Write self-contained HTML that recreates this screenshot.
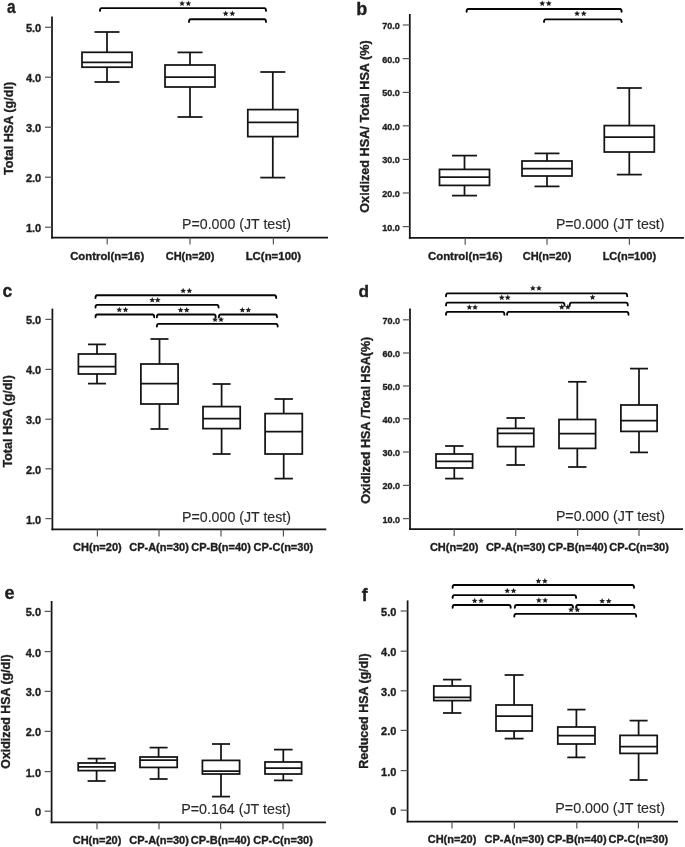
<!DOCTYPE html>
<html><head><meta charset="utf-8"><title>HSA box plots</title>
<style>
html,body{margin:0;padding:0;background:#fff;}
body{width:685px;height:847px;overflow:hidden;}
svg{display:block;font-family:"Liberation Sans", sans-serif;filter:blur(0.35px);}
</style></head>
<body>
<svg width="685" height="847" viewBox="0 0 685 847">
<rect width="685" height="847" fill="#fff"/>
<text x="7.0" y="12.7" font-size="18" font-weight="bold" text-anchor="start" fill="#1e1e1e" stroke="#1e1e1e" stroke-width="0.35" textLength="8.6" lengthAdjust="spacingAndGlyphs">a</text>
<text transform="translate(12.9,128.4) rotate(-90)" x="0" y="0" font-size="12.5" font-weight="bold" text-anchor="middle" fill="#1e1e1e" stroke="#1e1e1e" stroke-width="0.35" textLength="93" lengthAdjust="spacingAndGlyphs">Total HSA (g/dl)</text>
<line x1="52" y1="16.5" x2="52" y2="238.5" stroke="#141414" stroke-width="1.75"/>
<line x1="51.1" y1="237.6" x2="328" y2="237.6" stroke="#141414" stroke-width="1.75"/>
<line x1="45" y1="27.3" x2="52" y2="27.3" stroke="#555" stroke-width="1.2"/>
<text x="41.2" y="32.2" font-size="11" font-weight="bold" text-anchor="end" fill="#1e1e1e" stroke="#1e1e1e" stroke-width="0.35">5.0</text>
<line x1="45" y1="77.2" x2="52" y2="77.2" stroke="#555" stroke-width="1.2"/>
<text x="41.2" y="82.10000000000001" font-size="11" font-weight="bold" text-anchor="end" fill="#1e1e1e" stroke="#1e1e1e" stroke-width="0.35">4.0</text>
<line x1="45" y1="127.2" x2="52" y2="127.2" stroke="#555" stroke-width="1.2"/>
<text x="41.2" y="132.1" font-size="11" font-weight="bold" text-anchor="end" fill="#1e1e1e" stroke="#1e1e1e" stroke-width="0.35">3.0</text>
<line x1="45" y1="177.2" x2="52" y2="177.2" stroke="#555" stroke-width="1.2"/>
<text x="41.2" y="182.1" font-size="11" font-weight="bold" text-anchor="end" fill="#1e1e1e" stroke="#1e1e1e" stroke-width="0.35">2.0</text>
<line x1="45" y1="227.2" x2="52" y2="227.2" stroke="#555" stroke-width="1.2"/>
<text x="41.2" y="232.1" font-size="11" font-weight="bold" text-anchor="end" fill="#1e1e1e" stroke="#1e1e1e" stroke-width="0.35">1.0</text>
<line x1="107" y1="32" x2="107" y2="52.3" stroke="#141414" stroke-width="1.75"/>
<line x1="107" y1="67.2" x2="107" y2="82" stroke="#141414" stroke-width="1.75"/>
<line x1="94.5" y1="32" x2="119.5" y2="32" stroke="#141414" stroke-width="1.75"/>
<line x1="94.5" y1="82" x2="119.5" y2="82" stroke="#141414" stroke-width="1.75"/>
<rect x="82.0" y="52.3" width="50.0" height="14.900000000000006" fill="none" stroke="#141414" stroke-width="1.75"/>
<line x1="82.0" y1="62.4" x2="132.0" y2="62.4" stroke="#141414" stroke-width="1.75"/>
<line x1="190" y1="52.4" x2="190" y2="65" stroke="#141414" stroke-width="1.75"/>
<line x1="190" y1="87" x2="190" y2="117" stroke="#141414" stroke-width="1.75"/>
<line x1="177.5" y1="52.4" x2="202.5" y2="52.4" stroke="#141414" stroke-width="1.75"/>
<line x1="177.5" y1="117" x2="202.5" y2="117" stroke="#141414" stroke-width="1.75"/>
<rect x="165.0" y="65" width="50.0" height="22" fill="none" stroke="#141414" stroke-width="1.75"/>
<line x1="165.0" y1="77" x2="215.0" y2="77" stroke="#141414" stroke-width="1.75"/>
<line x1="272.8" y1="72" x2="272.8" y2="109.6" stroke="#141414" stroke-width="1.75"/>
<line x1="272.8" y1="136.6" x2="272.8" y2="177.6" stroke="#141414" stroke-width="1.75"/>
<line x1="260.3" y1="72" x2="285.3" y2="72" stroke="#141414" stroke-width="1.75"/>
<line x1="260.3" y1="177.6" x2="285.3" y2="177.6" stroke="#141414" stroke-width="1.75"/>
<rect x="247.8" y="109.6" width="50.0" height="27.0" fill="none" stroke="#141414" stroke-width="1.75"/>
<line x1="247.8" y1="122.4" x2="297.8" y2="122.4" stroke="#141414" stroke-width="1.75"/>
<line x1="107.2" y1="237.6" x2="107.2" y2="244.6" stroke="#555" stroke-width="1.2"/>
<text x="107.2" y="259.6" font-size="11" font-weight="bold" text-anchor="middle" fill="#1e1e1e" stroke="#1e1e1e" stroke-width="0.35" textLength="74" lengthAdjust="spacingAndGlyphs">Control(n=16)</text>
<line x1="190" y1="237.6" x2="190" y2="244.6" stroke="#555" stroke-width="1.2"/>
<text x="190" y="259.6" font-size="11" font-weight="bold" text-anchor="middle" fill="#1e1e1e" stroke="#1e1e1e" stroke-width="0.35">CH(n=20)</text>
<line x1="273.4" y1="237.6" x2="273.4" y2="244.6" stroke="#555" stroke-width="1.2"/>
<text x="273.4" y="259.6" font-size="11" font-weight="bold" text-anchor="middle" fill="#1e1e1e" stroke="#1e1e1e" stroke-width="0.35" textLength="55.5" lengthAdjust="spacingAndGlyphs">LC(n=100)</text>
<path d="M100,10.899999999999999 Q100,8.1 101.6,8.1 L264.4,8.1 Q266,8.1 266,10.899999999999999" fill="none" stroke="#050505" stroke-width="1.85" stroke-linecap="round"/>
<path d="M189,22.0 Q189,19.2 190.6,19.2 L264.4,19.2 Q266,19.2 266,22.0" fill="none" stroke="#050505" stroke-width="1.85" stroke-linecap="round"/>
<polygon points="182.05,0.45 182.87,2.42 185.00,2.59 183.38,3.98 183.87,6.06 182.05,4.95 180.23,6.06 180.72,3.98 179.10,2.59 181.23,2.42" fill="#1e1e1e"/>
<polygon points="188.35,0.45 189.17,2.42 191.30,2.59 189.68,3.98 190.17,6.06 188.35,4.95 186.53,6.06 187.02,3.98 185.40,2.59 187.53,2.42" fill="#1e1e1e"/>
<polygon points="225.65,10.60 226.47,12.57 228.60,12.74 226.98,14.13 227.47,16.21 225.65,15.09 223.83,16.21 224.32,14.13 222.70,12.74 224.83,12.57" fill="#1e1e1e"/>
<polygon points="232.35,10.60 233.17,12.57 235.30,12.74 233.68,14.13 234.17,16.21 232.35,15.09 230.53,16.21 231.02,14.13 229.40,12.74 231.53,12.57" fill="#1e1e1e"/>
<text x="182.0" y="229.4" font-size="15.0" font-weight="normal" text-anchor="start" fill="#2a2a2a" stroke="#2a2a2a" stroke-width="0.15" textLength="109" lengthAdjust="spacingAndGlyphs">P=0.000 (JT test)</text>
<text x="356.2" y="15.2" font-size="18" font-weight="bold" text-anchor="start" fill="#1e1e1e" stroke="#1e1e1e" stroke-width="0.35">b</text>
<text transform="translate(369.0,126.5) rotate(-90)" x="0" y="0" font-size="12.6" font-weight="bold" text-anchor="middle" fill="#1e1e1e" stroke="#1e1e1e" stroke-width="0.35" textLength="172.5" lengthAdjust="spacingAndGlyphs">Oxidized HSA/ Total HSA (%)</text>
<line x1="409.8" y1="14" x2="409.8" y2="238.70000000000002" stroke="#141414" stroke-width="1.75"/>
<line x1="408.90000000000003" y1="237.8" x2="684" y2="237.8" stroke="#141414" stroke-width="1.75"/>
<line x1="402.8" y1="25" x2="409.8" y2="25" stroke="#555" stroke-width="1.2"/>
<text x="399.8" y="29.0" font-size="9.3" font-weight="bold" text-anchor="end" fill="#1e1e1e" stroke="#1e1e1e" stroke-width="0.35" textLength="17.6" lengthAdjust="spacingAndGlyphs">70.0</text>
<line x1="402.8" y1="58.6" x2="409.8" y2="58.6" stroke="#555" stroke-width="1.2"/>
<text x="399.8" y="62.6" font-size="9.3" font-weight="bold" text-anchor="end" fill="#1e1e1e" stroke="#1e1e1e" stroke-width="0.35" textLength="17.6" lengthAdjust="spacingAndGlyphs">60.0</text>
<line x1="402.8" y1="92.4" x2="409.8" y2="92.4" stroke="#555" stroke-width="1.2"/>
<text x="399.8" y="96.4" font-size="9.3" font-weight="bold" text-anchor="end" fill="#1e1e1e" stroke="#1e1e1e" stroke-width="0.35" textLength="17.6" lengthAdjust="spacingAndGlyphs">50.0</text>
<line x1="402.8" y1="125.8" x2="409.8" y2="125.8" stroke="#555" stroke-width="1.2"/>
<text x="399.8" y="129.8" font-size="9.3" font-weight="bold" text-anchor="end" fill="#1e1e1e" stroke="#1e1e1e" stroke-width="0.35" textLength="17.6" lengthAdjust="spacingAndGlyphs">40.0</text>
<line x1="402.8" y1="159.4" x2="409.8" y2="159.4" stroke="#555" stroke-width="1.2"/>
<text x="399.8" y="163.4" font-size="9.3" font-weight="bold" text-anchor="end" fill="#1e1e1e" stroke="#1e1e1e" stroke-width="0.35" textLength="17.6" lengthAdjust="spacingAndGlyphs">30.0</text>
<line x1="402.8" y1="193" x2="409.8" y2="193" stroke="#555" stroke-width="1.2"/>
<text x="399.8" y="197.0" font-size="9.3" font-weight="bold" text-anchor="end" fill="#1e1e1e" stroke="#1e1e1e" stroke-width="0.35" textLength="17.6" lengthAdjust="spacingAndGlyphs">20.0</text>
<line x1="402.8" y1="226.6" x2="409.8" y2="226.6" stroke="#555" stroke-width="1.2"/>
<text x="399.8" y="230.6" font-size="9.3" font-weight="bold" text-anchor="end" fill="#1e1e1e" stroke="#1e1e1e" stroke-width="0.35" textLength="17.6" lengthAdjust="spacingAndGlyphs">10.0</text>
<line x1="464.5" y1="155.6" x2="464.5" y2="169.4" stroke="#141414" stroke-width="1.75"/>
<line x1="464.5" y1="185.4" x2="464.5" y2="195.6" stroke="#141414" stroke-width="1.75"/>
<line x1="452.0" y1="155.6" x2="477.0" y2="155.6" stroke="#141414" stroke-width="1.75"/>
<line x1="452.0" y1="195.6" x2="477.0" y2="195.6" stroke="#141414" stroke-width="1.75"/>
<rect x="439.5" y="169.4" width="50.0" height="16.0" fill="none" stroke="#141414" stroke-width="1.75"/>
<line x1="439.5" y1="177" x2="489.5" y2="177" stroke="#141414" stroke-width="1.75"/>
<line x1="547" y1="153.4" x2="547" y2="161" stroke="#141414" stroke-width="1.75"/>
<line x1="547" y1="176" x2="547" y2="186.4" stroke="#141414" stroke-width="1.75"/>
<line x1="534.5" y1="153.4" x2="559.5" y2="153.4" stroke="#141414" stroke-width="1.75"/>
<line x1="534.5" y1="186.4" x2="559.5" y2="186.4" stroke="#141414" stroke-width="1.75"/>
<rect x="522.0" y="161" width="50.0" height="15" fill="none" stroke="#141414" stroke-width="1.75"/>
<line x1="522.0" y1="168.6" x2="572.0" y2="168.6" stroke="#141414" stroke-width="1.75"/>
<line x1="629.3" y1="88" x2="629.3" y2="125.6" stroke="#141414" stroke-width="1.75"/>
<line x1="629.3" y1="152" x2="629.3" y2="174.6" stroke="#141414" stroke-width="1.75"/>
<line x1="616.8" y1="88" x2="641.8" y2="88" stroke="#141414" stroke-width="1.75"/>
<line x1="616.8" y1="174.6" x2="641.8" y2="174.6" stroke="#141414" stroke-width="1.75"/>
<rect x="604.3" y="125.6" width="50.0" height="26.400000000000006" fill="none" stroke="#141414" stroke-width="1.75"/>
<line x1="604.3" y1="137" x2="654.3" y2="137" stroke="#141414" stroke-width="1.75"/>
<line x1="465.2" y1="237.8" x2="465.2" y2="244.8" stroke="#555" stroke-width="1.2"/>
<text x="465.2" y="259.6" font-size="11" font-weight="bold" text-anchor="middle" fill="#1e1e1e" stroke="#1e1e1e" stroke-width="0.35" textLength="74.5" lengthAdjust="spacingAndGlyphs">Control(n=16)</text>
<line x1="547" y1="237.8" x2="547" y2="244.8" stroke="#555" stroke-width="1.2"/>
<text x="547" y="259.6" font-size="11" font-weight="bold" text-anchor="middle" fill="#1e1e1e" stroke="#1e1e1e" stroke-width="0.35">CH(n=20)</text>
<line x1="629.4" y1="237.8" x2="629.4" y2="244.8" stroke="#555" stroke-width="1.2"/>
<text x="629.4" y="259.6" font-size="11" font-weight="bold" text-anchor="middle" fill="#1e1e1e" stroke="#1e1e1e" stroke-width="0.35">LC(n=100)</text>
<path d="M466.6,11.8 Q466.6,9 468.20000000000005,9 L620.0,9 Q621.6,9 621.6,11.8" fill="none" stroke="#050505" stroke-width="1.85" stroke-linecap="round"/>
<path d="M544,22.1 Q544,19.3 545.6,19.3 L620.0,19.3 Q621.6,19.3 621.6,22.1" fill="none" stroke="#050505" stroke-width="1.85" stroke-linecap="round"/>
<polygon points="542.25,0.40 543.07,2.37 545.20,2.54 543.58,3.93 544.07,6.01 542.25,4.89 540.43,6.01 540.92,3.93 539.30,2.54 541.43,2.37" fill="#1e1e1e"/>
<polygon points="548.75,0.40 549.57,2.37 551.70,2.54 550.08,3.93 550.57,6.01 548.75,4.89 546.93,6.01 547.42,3.93 545.80,2.54 547.93,2.37" fill="#1e1e1e"/>
<polygon points="577.05,10.60 577.87,12.57 580.00,12.74 578.38,14.13 578.87,16.21 577.05,15.09 575.23,16.21 575.72,14.13 574.10,12.74 576.23,12.57" fill="#1e1e1e"/>
<polygon points="583.75,10.60 584.57,12.57 586.70,12.74 585.08,14.13 585.57,16.21 583.75,15.09 581.93,16.21 582.42,14.13 580.80,12.74 582.93,12.57" fill="#1e1e1e"/>
<text x="555.9" y="229.4" font-size="15.0" font-weight="normal" text-anchor="start" fill="#2a2a2a" stroke="#2a2a2a" stroke-width="0.15" textLength="108.6" lengthAdjust="spacingAndGlyphs">P=0.000 (JT test)</text>
<text x="2.6" y="296.7" font-size="17.5" font-weight="bold" text-anchor="start" fill="#1e1e1e" stroke="#1e1e1e" stroke-width="0.35">c</text>
<text transform="translate(11.9,421.3) rotate(-90)" x="0" y="0" font-size="12.5" font-weight="bold" text-anchor="middle" fill="#1e1e1e" stroke="#1e1e1e" stroke-width="0.35" textLength="92.5" lengthAdjust="spacingAndGlyphs">Total HSA (g/dl)</text>
<line x1="52.4" y1="308.6" x2="52.4" y2="530.3" stroke="#141414" stroke-width="1.75"/>
<line x1="51.5" y1="529.4" x2="326.3" y2="529.4" stroke="#141414" stroke-width="1.75"/>
<line x1="45.4" y1="319.4" x2="52.4" y2="319.4" stroke="#555" stroke-width="1.2"/>
<text x="41.2" y="324.29999999999995" font-size="11" font-weight="bold" text-anchor="end" fill="#1e1e1e" stroke="#1e1e1e" stroke-width="0.35">5.0</text>
<line x1="45.4" y1="369.4" x2="52.4" y2="369.4" stroke="#555" stroke-width="1.2"/>
<text x="41.2" y="374.29999999999995" font-size="11" font-weight="bold" text-anchor="end" fill="#1e1e1e" stroke="#1e1e1e" stroke-width="0.35">4.0</text>
<line x1="45.4" y1="419.2" x2="52.4" y2="419.2" stroke="#555" stroke-width="1.2"/>
<text x="41.2" y="424.09999999999997" font-size="11" font-weight="bold" text-anchor="end" fill="#1e1e1e" stroke="#1e1e1e" stroke-width="0.35">3.0</text>
<line x1="45.4" y1="468.8" x2="52.4" y2="468.8" stroke="#555" stroke-width="1.2"/>
<text x="41.2" y="473.7" font-size="11" font-weight="bold" text-anchor="end" fill="#1e1e1e" stroke="#1e1e1e" stroke-width="0.35">2.0</text>
<line x1="45.4" y1="518.6" x2="52.4" y2="518.6" stroke="#555" stroke-width="1.2"/>
<text x="41.2" y="523.5" font-size="11" font-weight="bold" text-anchor="end" fill="#1e1e1e" stroke="#1e1e1e" stroke-width="0.35">1.0</text>
<line x1="97" y1="344.4" x2="97" y2="354" stroke="#141414" stroke-width="1.75"/>
<line x1="97" y1="374" x2="97" y2="383.6" stroke="#141414" stroke-width="1.75"/>
<line x1="88.0" y1="344.4" x2="106.0" y2="344.4" stroke="#141414" stroke-width="1.75"/>
<line x1="88.0" y1="383.6" x2="106.0" y2="383.6" stroke="#141414" stroke-width="1.75"/>
<rect x="78.4" y="354" width="37.2" height="20" fill="none" stroke="#141414" stroke-width="1.75"/>
<line x1="78.4" y1="366.6" x2="115.6" y2="366.6" stroke="#141414" stroke-width="1.75"/>
<line x1="159.5" y1="339" x2="159.5" y2="364" stroke="#141414" stroke-width="1.75"/>
<line x1="159.5" y1="404" x2="159.5" y2="429" stroke="#141414" stroke-width="1.75"/>
<line x1="150.5" y1="339" x2="168.5" y2="339" stroke="#141414" stroke-width="1.75"/>
<line x1="150.5" y1="429" x2="168.5" y2="429" stroke="#141414" stroke-width="1.75"/>
<rect x="140.9" y="364" width="37.2" height="40" fill="none" stroke="#141414" stroke-width="1.75"/>
<line x1="140.9" y1="383.6" x2="178.1" y2="383.6" stroke="#141414" stroke-width="1.75"/>
<line x1="221.6" y1="384" x2="221.6" y2="406.6" stroke="#141414" stroke-width="1.75"/>
<line x1="221.6" y1="428.6" x2="221.6" y2="454" stroke="#141414" stroke-width="1.75"/>
<line x1="212.6" y1="384" x2="230.6" y2="384" stroke="#141414" stroke-width="1.75"/>
<line x1="212.6" y1="454" x2="230.6" y2="454" stroke="#141414" stroke-width="1.75"/>
<rect x="203.0" y="406.6" width="37.2" height="22.0" fill="none" stroke="#141414" stroke-width="1.75"/>
<line x1="203.0" y1="418.6" x2="240.2" y2="418.6" stroke="#141414" stroke-width="1.75"/>
<line x1="283.7" y1="399" x2="283.7" y2="413.6" stroke="#141414" stroke-width="1.75"/>
<line x1="283.7" y1="454" x2="283.7" y2="478.6" stroke="#141414" stroke-width="1.75"/>
<line x1="274.5" y1="399" x2="292.9" y2="399" stroke="#141414" stroke-width="1.75"/>
<line x1="274.5" y1="478.6" x2="292.9" y2="478.6" stroke="#141414" stroke-width="1.75"/>
<rect x="265.09999999999997" y="413.6" width="37.2" height="40.39999999999998" fill="none" stroke="#141414" stroke-width="1.75"/>
<line x1="265.09999999999997" y1="431.6" x2="302.3" y2="431.6" stroke="#141414" stroke-width="1.75"/>
<line x1="97.4" y1="529.4" x2="97.4" y2="536.4" stroke="#555" stroke-width="1.2"/>
<text x="97.4" y="551.2" font-size="11" font-weight="bold" text-anchor="middle" fill="#1e1e1e" stroke="#1e1e1e" stroke-width="0.35">CH(n=20)</text>
<line x1="159" y1="529.4" x2="159" y2="536.4" stroke="#555" stroke-width="1.2"/>
<text x="159" y="551.2" font-size="11" font-weight="bold" text-anchor="middle" fill="#1e1e1e" stroke="#1e1e1e" stroke-width="0.35">CP-A(n=30)</text>
<line x1="221" y1="529.4" x2="221" y2="536.4" stroke="#555" stroke-width="1.2"/>
<text x="221" y="551.2" font-size="11" font-weight="bold" text-anchor="middle" fill="#1e1e1e" stroke="#1e1e1e" stroke-width="0.35">CP-B(n=40)</text>
<line x1="283.4" y1="529.4" x2="283.4" y2="536.4" stroke="#555" stroke-width="1.2"/>
<text x="283.4" y="551.2" font-size="11" font-weight="bold" text-anchor="middle" fill="#1e1e1e" stroke="#1e1e1e" stroke-width="0.35">CP-C(n=30)</text>
<path d="M95.5,298.0 Q95.5,295.2 97.1,295.2 L274.59999999999997,295.2 Q276.2,295.2 276.2,298.0" fill="none" stroke="#050505" stroke-width="1.85" stroke-linecap="round"/>
<path d="M95.5,307.6 Q95.5,304.8 97.1,304.8 L217.0,304.8 Q218.6,304.8 218.6,307.6" fill="none" stroke="#050505" stroke-width="1.85" stroke-linecap="round"/>
<path d="M95.5,317.3 Q95.5,314.5 97.1,314.5 L152.6,314.5 Q154.2,314.5 154.2,317.3" fill="none" stroke="#050505" stroke-width="1.85" stroke-linecap="round"/>
<path d="M156.9,317.3 Q156.9,314.5 158.5,314.5 L214.1,314.5 Q215.7,314.5 215.7,317.3" fill="none" stroke="#050505" stroke-width="1.85" stroke-linecap="round"/>
<path d="M218.9,317.3 Q218.9,314.5 220.5,314.5 L275.4,314.5 Q277,314.5 277,317.3" fill="none" stroke="#050505" stroke-width="1.85" stroke-linecap="round"/>
<path d="M156.9,326.6 Q156.9,323.8 158.5,323.8 L276.09999999999997,323.8 Q277.7,323.8 277.7,326.6" fill="none" stroke="#050505" stroke-width="1.85" stroke-linecap="round"/>
<polygon points="183.15,287.75 183.97,289.72 186.10,289.89 184.48,291.28 184.97,293.36 183.15,292.24 181.33,293.36 181.82,291.28 180.20,289.89 182.33,289.72" fill="#1e1e1e"/>
<polygon points="189.35,287.75 190.17,289.72 192.30,289.89 190.68,291.28 191.17,293.36 189.35,292.24 187.53,293.36 188.02,291.28 186.40,289.89 188.53,289.72" fill="#1e1e1e"/>
<polygon points="152.25,296.95 153.07,298.92 155.20,299.09 153.58,300.48 154.07,302.56 152.25,301.44 150.43,302.56 150.92,300.48 149.30,299.09 151.43,298.92" fill="#1e1e1e"/>
<polygon points="157.75,296.95 158.57,298.92 160.70,299.09 159.08,300.48 159.57,302.56 157.75,301.44 155.93,302.56 156.42,300.48 154.80,299.09 156.93,298.92" fill="#1e1e1e"/>
<polygon points="119.25,306.70 120.07,308.67 122.20,308.84 120.58,310.23 121.07,312.31 119.25,311.19 117.43,312.31 117.92,310.23 116.30,308.84 118.43,308.67" fill="#1e1e1e"/>
<polygon points="125.55,306.70 126.37,308.67 128.50,308.84 126.88,310.23 127.37,312.31 125.55,311.19 123.73,312.31 124.22,310.23 122.60,308.84 124.73,308.67" fill="#1e1e1e"/>
<polygon points="180.65,306.95 181.47,308.92 183.60,309.09 181.98,310.48 182.47,312.56 180.65,311.44 178.83,312.56 179.32,310.48 177.70,309.09 179.83,308.92" fill="#1e1e1e"/>
<polygon points="186.75,306.95 187.57,308.92 189.70,309.09 188.08,310.48 188.57,312.56 186.75,311.44 184.93,312.56 185.42,310.48 183.80,309.09 185.93,308.92" fill="#1e1e1e"/>
<polygon points="242.35,307.00 243.17,308.97 245.30,309.14 243.68,310.53 244.17,312.61 242.35,311.49 240.53,312.61 241.02,310.53 239.40,309.14 241.53,308.97" fill="#1e1e1e"/>
<polygon points="248.35,307.00 249.17,308.97 251.30,309.14 249.68,310.53 250.17,312.61 248.35,311.49 246.53,312.61 247.02,310.53 245.40,309.14 247.53,308.97" fill="#1e1e1e"/>
<polygon points="215.05,316.50 215.87,318.47 218.00,318.64 216.38,320.03 216.87,322.11 215.05,320.99 213.23,322.11 213.72,320.03 212.10,318.64 214.23,318.47" fill="#1e1e1e"/>
<polygon points="221.05,316.50 221.87,318.47 224.00,318.64 222.38,320.03 222.87,322.11 221.05,320.99 219.23,322.11 219.72,320.03 218.10,318.64 220.23,318.47" fill="#1e1e1e"/>
<text x="182.0" y="522.0" font-size="15.0" font-weight="normal" text-anchor="start" fill="#2a2a2a" stroke="#2a2a2a" stroke-width="0.15" textLength="109" lengthAdjust="spacingAndGlyphs">P=0.000 (JT test)</text>
<text x="358.4" y="297.0" font-size="17.2" font-weight="bold" text-anchor="start" fill="#1e1e1e" stroke="#1e1e1e" stroke-width="0.35">d</text>
<text transform="translate(369.5,420.2) rotate(-90)" x="0" y="0" font-size="12.6" font-weight="bold" text-anchor="middle" fill="#1e1e1e" stroke="#1e1e1e" stroke-width="0.35" textLength="167" lengthAdjust="spacingAndGlyphs">Oxidized HSA /Total HSA(%)</text>
<line x1="410" y1="308.6" x2="410" y2="529.9" stroke="#141414" stroke-width="1.75"/>
<line x1="409.1" y1="529" x2="683" y2="529" stroke="#141414" stroke-width="1.75"/>
<line x1="403" y1="319.8" x2="410" y2="319.8" stroke="#555" stroke-width="1.2"/>
<text x="400" y="323.8" font-size="9.3" font-weight="bold" text-anchor="end" fill="#1e1e1e" stroke="#1e1e1e" stroke-width="0.35" textLength="17.6" lengthAdjust="spacingAndGlyphs">70.0</text>
<line x1="403" y1="353" x2="410" y2="353" stroke="#555" stroke-width="1.2"/>
<text x="400" y="357.0" font-size="9.3" font-weight="bold" text-anchor="end" fill="#1e1e1e" stroke="#1e1e1e" stroke-width="0.35" textLength="17.6" lengthAdjust="spacingAndGlyphs">60.0</text>
<line x1="403" y1="386" x2="410" y2="386" stroke="#555" stroke-width="1.2"/>
<text x="400" y="390.0" font-size="9.3" font-weight="bold" text-anchor="end" fill="#1e1e1e" stroke="#1e1e1e" stroke-width="0.35" textLength="17.6" lengthAdjust="spacingAndGlyphs">50.0</text>
<line x1="403" y1="418.8" x2="410" y2="418.8" stroke="#555" stroke-width="1.2"/>
<text x="400" y="422.8" font-size="9.3" font-weight="bold" text-anchor="end" fill="#1e1e1e" stroke="#1e1e1e" stroke-width="0.35" textLength="17.6" lengthAdjust="spacingAndGlyphs">40.0</text>
<line x1="403" y1="452" x2="410" y2="452" stroke="#555" stroke-width="1.2"/>
<text x="400" y="456.0" font-size="9.3" font-weight="bold" text-anchor="end" fill="#1e1e1e" stroke="#1e1e1e" stroke-width="0.35" textLength="17.6" lengthAdjust="spacingAndGlyphs">30.0</text>
<line x1="403" y1="485.4" x2="410" y2="485.4" stroke="#555" stroke-width="1.2"/>
<text x="400" y="489.4" font-size="9.3" font-weight="bold" text-anchor="end" fill="#1e1e1e" stroke="#1e1e1e" stroke-width="0.35" textLength="17.6" lengthAdjust="spacingAndGlyphs">20.0</text>
<line x1="403" y1="518.6" x2="410" y2="518.6" stroke="#555" stroke-width="1.2"/>
<text x="400" y="522.6" font-size="9.3" font-weight="bold" text-anchor="end" fill="#1e1e1e" stroke="#1e1e1e" stroke-width="0.35" textLength="17.6" lengthAdjust="spacingAndGlyphs">10.0</text>
<line x1="454.3" y1="446" x2="454.3" y2="454" stroke="#141414" stroke-width="1.75"/>
<line x1="454.3" y1="468" x2="454.3" y2="478.6" stroke="#141414" stroke-width="1.75"/>
<line x1="445.1" y1="446" x2="463.5" y2="446" stroke="#141414" stroke-width="1.75"/>
<line x1="445.1" y1="478.6" x2="463.5" y2="478.6" stroke="#141414" stroke-width="1.75"/>
<rect x="436.0" y="454" width="36.6" height="14" fill="none" stroke="#141414" stroke-width="1.75"/>
<line x1="436.0" y1="461.4" x2="472.6" y2="461.4" stroke="#141414" stroke-width="1.75"/>
<line x1="515.7" y1="418" x2="515.7" y2="428.4" stroke="#141414" stroke-width="1.75"/>
<line x1="515.7" y1="446.6" x2="515.7" y2="465" stroke="#141414" stroke-width="1.75"/>
<line x1="506.40000000000003" y1="418" x2="525.0" y2="418" stroke="#141414" stroke-width="1.75"/>
<line x1="506.40000000000003" y1="465" x2="525.0" y2="465" stroke="#141414" stroke-width="1.75"/>
<rect x="497.6" y="428.4" width="36.2" height="18.200000000000045" fill="none" stroke="#141414" stroke-width="1.75"/>
<line x1="497.6" y1="433.4" x2="533.8000000000001" y2="433.4" stroke="#141414" stroke-width="1.75"/>
<line x1="577.3" y1="381.8" x2="577.3" y2="419.5" stroke="#141414" stroke-width="1.75"/>
<line x1="577.3" y1="448.4" x2="577.3" y2="467" stroke="#141414" stroke-width="1.75"/>
<line x1="568.0999999999999" y1="381.8" x2="586.5" y2="381.8" stroke="#141414" stroke-width="1.75"/>
<line x1="568.0999999999999" y1="467" x2="586.5" y2="467" stroke="#141414" stroke-width="1.75"/>
<rect x="559.0" y="419.5" width="36.6" height="28.899999999999977" fill="none" stroke="#141414" stroke-width="1.75"/>
<line x1="559.0" y1="433.6" x2="595.5999999999999" y2="433.6" stroke="#141414" stroke-width="1.75"/>
<line x1="639" y1="368.6" x2="639" y2="405" stroke="#141414" stroke-width="1.75"/>
<line x1="639" y1="431.4" x2="639" y2="452.4" stroke="#141414" stroke-width="1.75"/>
<line x1="630.0" y1="368.6" x2="648.0" y2="368.6" stroke="#141414" stroke-width="1.75"/>
<line x1="630.0" y1="452.4" x2="648.0" y2="452.4" stroke="#141414" stroke-width="1.75"/>
<rect x="620.9" y="405" width="36.2" height="26.399999999999977" fill="none" stroke="#141414" stroke-width="1.75"/>
<line x1="620.9" y1="420.6" x2="657.1" y2="420.6" stroke="#141414" stroke-width="1.75"/>
<line x1="454.2" y1="529" x2="454.2" y2="536" stroke="#555" stroke-width="1.2"/>
<text x="454.2" y="551.2" font-size="11" font-weight="bold" text-anchor="middle" fill="#1e1e1e" stroke="#1e1e1e" stroke-width="0.35">CH(n=20)</text>
<line x1="515.7" y1="529" x2="515.7" y2="536" stroke="#555" stroke-width="1.2"/>
<text x="515.7" y="551.2" font-size="11" font-weight="bold" text-anchor="middle" fill="#1e1e1e" stroke="#1e1e1e" stroke-width="0.35">CP-A(n=30)</text>
<line x1="577.6" y1="529" x2="577.6" y2="536" stroke="#555" stroke-width="1.2"/>
<text x="577.6" y="551.2" font-size="11" font-weight="bold" text-anchor="middle" fill="#1e1e1e" stroke="#1e1e1e" stroke-width="0.35">CP-B(n=40)</text>
<line x1="639" y1="529" x2="639" y2="536" stroke="#555" stroke-width="1.2"/>
<text x="639" y="551.2" font-size="11" font-weight="bold" text-anchor="middle" fill="#1e1e1e" stroke="#1e1e1e" stroke-width="0.35">CP-C(n=30)</text>
<path d="M446,296.2 Q446,293.4 447.6,293.4 L625.6,293.4 Q627.2,293.4 627.2,296.2" fill="none" stroke="#050505" stroke-width="1.85" stroke-linecap="round"/>
<path d="M446,305.40000000000003 Q446,302.6 447.6,302.6 L562.9,302.6 Q564.5,302.6 564.5,305.40000000000003" fill="none" stroke="#050505" stroke-width="1.85" stroke-linecap="round"/>
<path d="M569.7,305.40000000000003 Q569.7,302.6 571.3000000000001,302.6 L626.1999999999999,302.6 Q627.8,302.6 627.8,305.40000000000003" fill="none" stroke="#050505" stroke-width="1.85" stroke-linecap="round"/>
<path d="M446,314.7 Q446,311.9 447.6,311.9 L502.79999999999995,311.9 Q504.4,311.9 504.4,314.7" fill="none" stroke="#050505" stroke-width="1.85" stroke-linecap="round"/>
<path d="M507.1,314.7 Q507.1,311.9 508.70000000000005,311.9 L626.9,311.9 Q628.5,311.9 628.5,314.7" fill="none" stroke="#050505" stroke-width="1.85" stroke-linecap="round"/>
<polygon points="532.85,285.25 533.67,287.22 535.80,287.39 534.18,288.78 534.67,290.86 532.85,289.74 531.03,290.86 531.52,288.78 529.90,287.39 532.03,287.22" fill="#1e1e1e"/>
<polygon points="538.95,285.25 539.77,287.22 541.90,287.39 540.28,288.78 540.77,290.86 538.95,289.74 537.13,290.86 537.62,288.78 536.00,287.39 538.13,287.22" fill="#1e1e1e"/>
<polygon points="501.75,294.60 502.57,296.57 504.70,296.74 503.08,298.13 503.57,300.21 501.75,299.09 499.93,300.21 500.42,298.13 498.80,296.74 500.93,296.57" fill="#1e1e1e"/>
<polygon points="507.75,294.60 508.57,296.57 510.70,296.74 509.08,298.13 509.57,300.21 507.75,299.09 505.93,300.21 506.42,298.13 504.80,296.74 506.93,296.57" fill="#1e1e1e"/>
<polygon points="592.55,294.30 593.37,296.27 595.50,296.44 593.88,297.83 594.37,299.91 592.55,298.79 590.73,299.91 591.22,297.83 589.60,296.44 591.73,296.27" fill="#1e1e1e"/>
<polygon points="469.35,304.25 470.17,306.22 472.30,306.39 470.68,307.78 471.17,309.86 469.35,308.74 467.53,309.86 468.02,307.78 466.40,306.39 468.53,306.22" fill="#1e1e1e"/>
<polygon points="475.05,304.25 475.87,306.22 478.00,306.39 476.38,307.78 476.87,309.86 475.05,308.74 473.23,309.86 473.72,307.78 472.10,306.39 474.23,306.22" fill="#1e1e1e"/>
<polygon points="561.75,304.10 562.57,306.07 564.70,306.24 563.08,307.63 563.57,309.71 561.75,308.59 559.93,309.71 560.42,307.63 558.80,306.24 560.93,306.07" fill="#1e1e1e"/>
<polygon points="567.85,304.10 568.67,306.07 570.80,306.24 569.18,307.63 569.67,309.71 567.85,308.59 566.03,309.71 566.52,307.63 564.90,306.24 567.03,306.07" fill="#1e1e1e"/>
<text x="555.9" y="520.6" font-size="15.0" font-weight="normal" text-anchor="start" fill="#2a2a2a" stroke="#2a2a2a" stroke-width="0.15" textLength="109" lengthAdjust="spacingAndGlyphs">P=0.000 (JT test)</text>
<text x="4.4" y="598.8" font-size="18" font-weight="bold" text-anchor="start" fill="#1e1e1e" stroke="#1e1e1e" stroke-width="0.35">e</text>
<text transform="translate(10.2,711.5) rotate(-90)" x="0" y="0" font-size="12.4" font-weight="bold" text-anchor="middle" fill="#1e1e1e" stroke="#1e1e1e" stroke-width="0.35" textLength="114.5" lengthAdjust="spacingAndGlyphs">Oxidized HSA (g/dl)</text>
<line x1="51.6" y1="601" x2="51.6" y2="823.1999999999999" stroke="#141414" stroke-width="1.75"/>
<line x1="50.7" y1="822.3" x2="326" y2="822.3" stroke="#141414" stroke-width="1.75"/>
<line x1="44.6" y1="611.4" x2="51.6" y2="611.4" stroke="#555" stroke-width="1.2"/>
<text x="41" y="616.3" font-size="11" font-weight="bold" text-anchor="end" fill="#1e1e1e" stroke="#1e1e1e" stroke-width="0.35">5.0</text>
<line x1="44.6" y1="651.6" x2="51.6" y2="651.6" stroke="#555" stroke-width="1.2"/>
<text x="41" y="656.5" font-size="11" font-weight="bold" text-anchor="end" fill="#1e1e1e" stroke="#1e1e1e" stroke-width="0.35">4.0</text>
<line x1="44.6" y1="691.4" x2="51.6" y2="691.4" stroke="#555" stroke-width="1.2"/>
<text x="41" y="696.3" font-size="11" font-weight="bold" text-anchor="end" fill="#1e1e1e" stroke="#1e1e1e" stroke-width="0.35">3.0</text>
<line x1="44.6" y1="731.4" x2="51.6" y2="731.4" stroke="#555" stroke-width="1.2"/>
<text x="41" y="736.3" font-size="11" font-weight="bold" text-anchor="end" fill="#1e1e1e" stroke="#1e1e1e" stroke-width="0.35">2.0</text>
<line x1="44.6" y1="771.6" x2="51.6" y2="771.6" stroke="#555" stroke-width="1.2"/>
<text x="41" y="776.5" font-size="11" font-weight="bold" text-anchor="end" fill="#1e1e1e" stroke="#1e1e1e" stroke-width="0.35">1.0</text>
<line x1="44.6" y1="811.2" x2="51.6" y2="811.2" stroke="#555" stroke-width="1.2"/>
<text x="41" y="816.1" font-size="11" font-weight="bold" text-anchor="end" fill="#1e1e1e" stroke="#1e1e1e" stroke-width="0.35">0</text>
<line x1="96.6" y1="758.6" x2="96.6" y2="763" stroke="#141414" stroke-width="1.75"/>
<line x1="96.6" y1="770.6" x2="96.6" y2="781" stroke="#141414" stroke-width="1.75"/>
<line x1="87.6" y1="758.6" x2="105.6" y2="758.6" stroke="#141414" stroke-width="1.75"/>
<line x1="87.6" y1="781" x2="105.6" y2="781" stroke="#141414" stroke-width="1.75"/>
<rect x="78.19999999999999" y="763" width="36.8" height="7.600000000000023" fill="none" stroke="#141414" stroke-width="1.75"/>
<line x1="78.19999999999999" y1="766.8" x2="115.0" y2="766.8" stroke="#141414" stroke-width="1.75"/>
<line x1="158.6" y1="747.6" x2="158.6" y2="757" stroke="#141414" stroke-width="1.75"/>
<line x1="158.6" y1="767.4" x2="158.6" y2="779" stroke="#141414" stroke-width="1.75"/>
<line x1="149.6" y1="747.6" x2="167.6" y2="747.6" stroke="#141414" stroke-width="1.75"/>
<line x1="149.6" y1="779" x2="167.6" y2="779" stroke="#141414" stroke-width="1.75"/>
<rect x="140.0" y="757" width="37.2" height="10.399999999999977" fill="none" stroke="#141414" stroke-width="1.75"/>
<line x1="140.0" y1="760" x2="177.2" y2="760" stroke="#141414" stroke-width="1.75"/>
<line x1="221" y1="744" x2="221" y2="760.4" stroke="#141414" stroke-width="1.75"/>
<line x1="221" y1="774" x2="221" y2="796.6" stroke="#141414" stroke-width="1.75"/>
<line x1="212.0" y1="744" x2="230.0" y2="744" stroke="#141414" stroke-width="1.75"/>
<line x1="212.0" y1="796.6" x2="230.0" y2="796.6" stroke="#141414" stroke-width="1.75"/>
<rect x="202.4" y="760.4" width="37.2" height="13.600000000000023" fill="none" stroke="#141414" stroke-width="1.75"/>
<line x1="202.4" y1="771" x2="239.6" y2="771" stroke="#141414" stroke-width="1.75"/>
<line x1="283.3" y1="749.6" x2="283.3" y2="762" stroke="#141414" stroke-width="1.75"/>
<line x1="283.3" y1="774" x2="283.3" y2="780.4" stroke="#141414" stroke-width="1.75"/>
<line x1="274.0" y1="749.6" x2="292.6" y2="749.6" stroke="#141414" stroke-width="1.75"/>
<line x1="274.0" y1="780.4" x2="292.6" y2="780.4" stroke="#141414" stroke-width="1.75"/>
<rect x="265.0" y="762" width="36.6" height="12" fill="none" stroke="#141414" stroke-width="1.75"/>
<line x1="265.0" y1="768" x2="301.6" y2="768" stroke="#141414" stroke-width="1.75"/>
<line x1="97" y1="822.3" x2="97" y2="829.3" stroke="#555" stroke-width="1.2"/>
<text x="97" y="844" font-size="11" font-weight="bold" text-anchor="middle" fill="#1e1e1e" stroke="#1e1e1e" stroke-width="0.35">CH(n=20)</text>
<line x1="159" y1="822.3" x2="159" y2="829.3" stroke="#555" stroke-width="1.2"/>
<text x="159" y="844" font-size="11" font-weight="bold" text-anchor="middle" fill="#1e1e1e" stroke="#1e1e1e" stroke-width="0.35">CP-A(n=30)</text>
<line x1="220.6" y1="822.3" x2="220.6" y2="829.3" stroke="#555" stroke-width="1.2"/>
<text x="220.6" y="844" font-size="11" font-weight="bold" text-anchor="middle" fill="#1e1e1e" stroke="#1e1e1e" stroke-width="0.35">CP-B(n=40)</text>
<line x1="283" y1="822.3" x2="283" y2="829.3" stroke="#555" stroke-width="1.2"/>
<text x="283" y="844" font-size="11" font-weight="bold" text-anchor="middle" fill="#1e1e1e" stroke="#1e1e1e" stroke-width="0.35">CP-C(n=30)</text>
<text x="181.2" y="814.0" font-size="15.0" font-weight="normal" text-anchor="start" fill="#2a2a2a" stroke="#2a2a2a" stroke-width="0.15" textLength="109.6" lengthAdjust="spacingAndGlyphs">P=0.164 (JT test)</text>
<text x="361.8" y="601" font-size="17.5" font-weight="bold" text-anchor="start" fill="#1e1e1e" stroke="#1e1e1e" stroke-width="0.35">f</text>
<text transform="translate(368.1,711) rotate(-90)" x="0" y="0" font-size="12.4" font-weight="bold" text-anchor="middle" fill="#1e1e1e" stroke="#1e1e1e" stroke-width="0.35" textLength="115.5" lengthAdjust="spacingAndGlyphs">Reduced HSA (g/dl)</text>
<line x1="407.6" y1="600.4" x2="407.6" y2="822.5" stroke="#141414" stroke-width="1.75"/>
<line x1="406.70000000000005" y1="821.6" x2="678" y2="821.6" stroke="#141414" stroke-width="1.75"/>
<line x1="400.6" y1="611" x2="407.6" y2="611" stroke="#555" stroke-width="1.2"/>
<text x="396.4" y="615.9" font-size="11" font-weight="bold" text-anchor="end" fill="#1e1e1e" stroke="#1e1e1e" stroke-width="0.35">5.0</text>
<line x1="400.6" y1="651.2" x2="407.6" y2="651.2" stroke="#555" stroke-width="1.2"/>
<text x="396.4" y="656.1" font-size="11" font-weight="bold" text-anchor="end" fill="#1e1e1e" stroke="#1e1e1e" stroke-width="0.35">4.0</text>
<line x1="400.6" y1="690.8" x2="407.6" y2="690.8" stroke="#555" stroke-width="1.2"/>
<text x="396.4" y="695.6999999999999" font-size="11" font-weight="bold" text-anchor="end" fill="#1e1e1e" stroke="#1e1e1e" stroke-width="0.35">3.0</text>
<line x1="400.6" y1="730.4" x2="407.6" y2="730.4" stroke="#555" stroke-width="1.2"/>
<text x="396.4" y="735.3" font-size="11" font-weight="bold" text-anchor="end" fill="#1e1e1e" stroke="#1e1e1e" stroke-width="0.35">2.0</text>
<line x1="400.6" y1="770.6" x2="407.6" y2="770.6" stroke="#555" stroke-width="1.2"/>
<text x="396.4" y="775.5" font-size="11" font-weight="bold" text-anchor="end" fill="#1e1e1e" stroke="#1e1e1e" stroke-width="0.35">1.0</text>
<line x1="400.6" y1="810.2" x2="407.6" y2="810.2" stroke="#555" stroke-width="1.2"/>
<text x="396.4" y="815.1" font-size="11" font-weight="bold" text-anchor="end" fill="#1e1e1e" stroke="#1e1e1e" stroke-width="0.35">0</text>
<line x1="452.2" y1="679.6" x2="452.2" y2="686" stroke="#141414" stroke-width="1.75"/>
<line x1="452.2" y1="700.6" x2="452.2" y2="713" stroke="#141414" stroke-width="1.75"/>
<line x1="443.0" y1="679.6" x2="461.4" y2="679.6" stroke="#141414" stroke-width="1.75"/>
<line x1="443.0" y1="713" x2="461.4" y2="713" stroke="#141414" stroke-width="1.75"/>
<rect x="433.8" y="686" width="36.8" height="14.600000000000023" fill="none" stroke="#141414" stroke-width="1.75"/>
<line x1="433.8" y1="697.4" x2="470.59999999999997" y2="697.4" stroke="#141414" stroke-width="1.75"/>
<line x1="514.1" y1="675" x2="514.1" y2="705" stroke="#141414" stroke-width="1.75"/>
<line x1="514.1" y1="731" x2="514.1" y2="738.6" stroke="#141414" stroke-width="1.75"/>
<line x1="504.6" y1="675" x2="523.6" y2="675" stroke="#141414" stroke-width="1.75"/>
<line x1="504.6" y1="738.6" x2="523.6" y2="738.6" stroke="#141414" stroke-width="1.75"/>
<rect x="496.0" y="705" width="36.2" height="26" fill="none" stroke="#141414" stroke-width="1.75"/>
<line x1="496.0" y1="716" x2="532.2" y2="716" stroke="#141414" stroke-width="1.75"/>
<line x1="576.4" y1="709.6" x2="576.4" y2="727" stroke="#141414" stroke-width="1.75"/>
<line x1="576.4" y1="744" x2="576.4" y2="757.4" stroke="#141414" stroke-width="1.75"/>
<line x1="567.3" y1="709.6" x2="585.5" y2="709.6" stroke="#141414" stroke-width="1.75"/>
<line x1="567.3" y1="757.4" x2="585.5" y2="757.4" stroke="#141414" stroke-width="1.75"/>
<rect x="557.8" y="727" width="37.2" height="17" fill="none" stroke="#141414" stroke-width="1.75"/>
<line x1="557.8" y1="735.6" x2="595.0" y2="735.6" stroke="#141414" stroke-width="1.75"/>
<line x1="638.6" y1="720.6" x2="638.6" y2="735.4" stroke="#141414" stroke-width="1.75"/>
<line x1="638.6" y1="753.4" x2="638.6" y2="780" stroke="#141414" stroke-width="1.75"/>
<line x1="629.6" y1="720.6" x2="647.6" y2="720.6" stroke="#141414" stroke-width="1.75"/>
<line x1="629.6" y1="780" x2="647.6" y2="780" stroke="#141414" stroke-width="1.75"/>
<rect x="620.0" y="735.4" width="37.2" height="18.0" fill="none" stroke="#141414" stroke-width="1.75"/>
<line x1="620.0" y1="746.6" x2="657.2" y2="746.6" stroke="#141414" stroke-width="1.75"/>
<line x1="452" y1="821.6" x2="452" y2="828.6" stroke="#555" stroke-width="1.2"/>
<text x="452" y="843.4" font-size="11" font-weight="bold" text-anchor="middle" fill="#1e1e1e" stroke="#1e1e1e" stroke-width="0.35">CH(n=20)</text>
<line x1="514.4" y1="821.6" x2="514.4" y2="828.6" stroke="#555" stroke-width="1.2"/>
<text x="514.4" y="843.4" font-size="11" font-weight="bold" text-anchor="middle" fill="#1e1e1e" stroke="#1e1e1e" stroke-width="0.35">CP-A(n=30)</text>
<line x1="576.8" y1="821.6" x2="576.8" y2="828.6" stroke="#555" stroke-width="1.2"/>
<text x="576.8" y="843.4" font-size="11" font-weight="bold" text-anchor="middle" fill="#1e1e1e" stroke="#1e1e1e" stroke-width="0.35">CP-B(n=40)</text>
<line x1="638.4" y1="821.6" x2="638.4" y2="828.6" stroke="#555" stroke-width="1.2"/>
<text x="638.4" y="843.4" font-size="11" font-weight="bold" text-anchor="middle" fill="#1e1e1e" stroke="#1e1e1e" stroke-width="0.35">CP-C(n=30)</text>
<path d="M452.6,587.8 Q452.6,585 454.20000000000005,585 L632.4,585 Q634,585 634,587.8" fill="none" stroke="#050505" stroke-width="1.85" stroke-linecap="round"/>
<path d="M452.6,597.9 Q452.6,595.1 454.20000000000005,595.1 L574.5,595.1 Q576.1,595.1 576.1,597.9" fill="none" stroke="#050505" stroke-width="1.85" stroke-linecap="round"/>
<path d="M452.6,607.8 Q452.6,605 454.20000000000005,605 L509.09999999999997,605 Q510.7,605 510.7,607.8" fill="none" stroke="#050505" stroke-width="1.85" stroke-linecap="round"/>
<path d="M514.8,607.8 Q514.8,605 516.4,605 L571.4,605 Q573,605 573,607.8" fill="none" stroke="#050505" stroke-width="1.85" stroke-linecap="round"/>
<path d="M576.1,607.8 Q576.1,605 577.7,605 L632.6999999999999,605 Q634.3,605 634.3,607.8" fill="none" stroke="#050505" stroke-width="1.85" stroke-linecap="round"/>
<path d="M514.3,616.5999999999999 Q514.3,613.8 515.9,613.8 L634.6,613.8 Q636.2,613.8 636.2,616.5999999999999" fill="none" stroke="#050505" stroke-width="1.85" stroke-linecap="round"/>
<polygon points="538.45,578.05 539.27,580.02 541.40,580.19 539.78,581.58 540.27,583.66 538.45,582.55 536.63,583.66 537.12,581.58 535.50,580.19 537.63,580.02" fill="#1e1e1e"/>
<polygon points="544.85,578.05 545.67,580.02 547.80,580.19 546.18,581.58 546.67,583.66 544.85,582.55 543.03,583.66 543.52,581.58 541.90,580.19 544.03,580.02" fill="#1e1e1e"/>
<polygon points="507.25,587.75 508.07,589.72 510.20,589.89 508.58,591.28 509.07,593.36 507.25,592.25 505.43,593.36 505.92,591.28 504.30,589.89 506.43,589.72" fill="#1e1e1e"/>
<polygon points="513.55,587.75 514.37,589.72 516.50,589.89 514.88,591.28 515.37,593.36 513.55,592.25 511.73,593.36 512.22,591.28 510.60,589.89 512.73,589.72" fill="#1e1e1e"/>
<polygon points="474.65,597.75 475.47,599.72 477.60,599.89 475.98,601.28 476.47,603.36 474.65,602.25 472.83,603.36 473.32,601.28 471.70,599.89 473.83,599.72" fill="#1e1e1e"/>
<polygon points="481.05,597.75 481.87,599.72 484.00,599.89 482.38,601.28 482.87,603.36 481.05,602.25 479.23,603.36 479.72,601.28 478.10,599.89 480.23,599.72" fill="#1e1e1e"/>
<polygon points="538.85,597.30 539.67,599.27 541.80,599.44 540.18,600.83 540.67,602.91 538.85,601.80 537.03,602.91 537.52,600.83 535.90,599.44 538.03,599.27" fill="#1e1e1e"/>
<polygon points="545.15,597.30 545.97,599.27 548.10,599.44 546.48,600.83 546.97,602.91 545.15,601.80 543.33,602.91 543.82,600.83 542.20,599.44 544.33,599.27" fill="#1e1e1e"/>
<polygon points="602.15,598.00 602.97,599.97 605.10,600.14 603.48,601.53 603.97,603.61 602.15,602.50 600.33,603.61 600.82,601.53 599.20,600.14 601.33,599.97" fill="#1e1e1e"/>
<polygon points="608.75,598.00 609.57,599.97 611.70,600.14 610.08,601.53 610.57,603.61 608.75,602.50 606.93,603.61 607.42,601.53 605.80,600.14 607.93,599.97" fill="#1e1e1e"/>
<polygon points="571.05,606.70 571.87,608.67 574.00,608.84 572.38,610.23 572.87,612.31 571.05,611.20 569.23,612.31 569.72,610.23 568.10,608.84 570.23,608.67" fill="#1e1e1e"/>
<polygon points="577.35,606.70 578.17,608.67 580.30,608.84 578.68,610.23 579.17,612.31 577.35,611.20 575.53,612.31 576.02,610.23 574.40,608.84 576.53,608.67" fill="#1e1e1e"/>
<text x="555.3" y="813.3" font-size="15.0" font-weight="normal" text-anchor="start" fill="#2a2a2a" stroke="#2a2a2a" stroke-width="0.15" textLength="109.6" lengthAdjust="spacingAndGlyphs">P=0.000 (JT test)</text>
</svg>
</body></html>
